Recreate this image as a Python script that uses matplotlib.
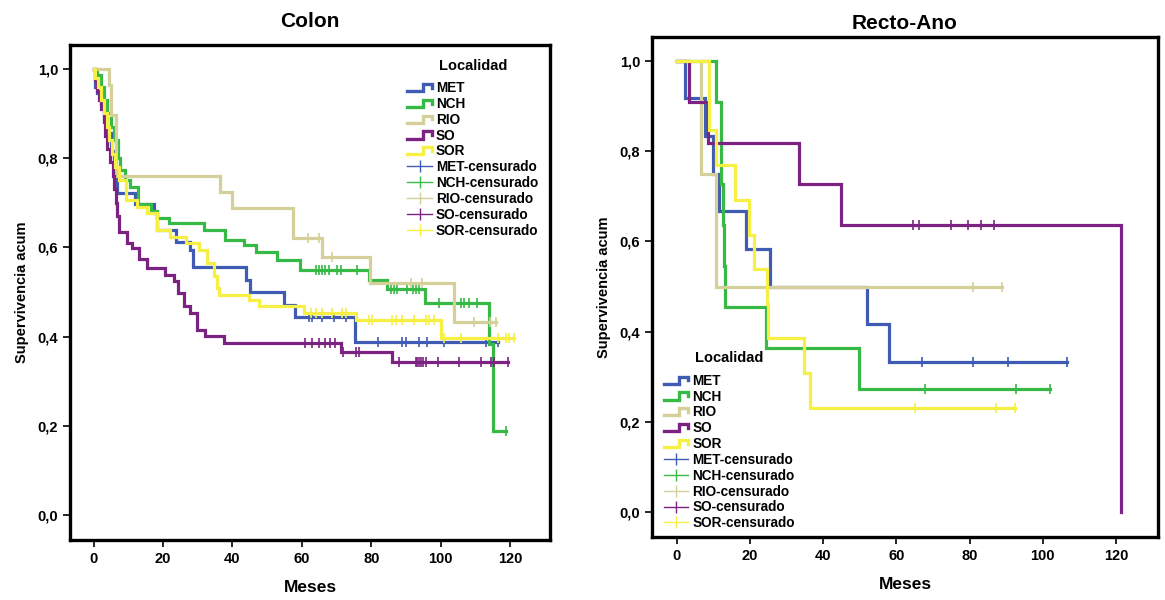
import numpy as np
import matplotlib
matplotlib.use("Agg")
from matplotlib import pyplot as plt
from matplotlib.lines import Line2D
from matplotlib.legend_handler import HandlerBase

plt.rcParams['font.family'] = ['Liberation Sans', 'DejaVu Sans']
plt.rcParams['font.weight'] = 'bold'
plt.rcParams['axes.labelweight'] = 'bold'
plt.rcParams['axes.titleweight'] = 'bold'

groups = ['MET', 'NCH', 'RIO', 'SO', 'SOR']
colors = {'MET': '#3F5BB3', 'NCH': '#36BA45', 'RIO': '#D5CF99',
          'SO': '#7B2282', 'SOR': '#F6F044'}

x_ticks = [0, 20, 40, 60, 80, 100, 120]
y_ticks = [0.0, 0.2, 0.4, 0.6, 0.8, 1.0]
y_tick_labels = ['0,0', '0,2', '0,4', '0,6', '0,8', '1,0']

# --- Colon: step times (meses) / survival, censored times ---
colon_t = {
    'MET': [0, 0.3, 1, 2, 3, 4, 5, 6, 6.7, 12, 17.3, 18.3, 23.6, 27.9, 28.5,
            43.8, 45.2, 54.8, 58, 75.2, 116.4],
    'NCH': [0, 1, 2, 3, 4, 5, 6, 7, 7.5, 9.1, 10.6, 12.7, 16.4, 18.3, 21.6,
            31.7, 38, 43.3, 46.7, 52.9, 59.6, 79.3, 84.6, 95.4, 114, 115, 118.8],
    'RIO': [0, 4.3, 5.1, 6.5, 36.5, 40, 57.4, 65.9, 79.5, 103.9, 116],
    'SO': [0, 0.5, 1, 1.5, 2, 2.9, 3.4, 4, 4.6, 5.5, 6, 6.4, 6.8, 7.2, 9.6,
           11.1, 13, 15.4, 20.7, 23.1, 24.4, 26, 27.9, 29.8, 32.2, 37.5,
           71.2, 86.1, 119.3],
    'SOR': [0, 0.5, 1.2, 2, 3, 3.8, 4.5, 5.2, 6.2, 7.2, 9.2, 12.5, 15.4, 18.3,
            22.1, 26.5, 30.3, 32.7, 34.6, 35.5, 36.1, 44.7, 47.6, 60.6, 75.5,
            100, 121.2],
}
colon_s = {
    'MET': [1, 0.96, 0.945, 0.92, 0.89, 0.855, 0.815, 0.775, 0.721, 0.697,
            0.676, 0.639, 0.613, 0.594, 0.557, 0.527, 0.501, 0.471, 0.445,
            0.388, 0.388],
    'NCH': [1, 0.985, 0.96, 0.93, 0.9, 0.87, 0.84, 0.8, 0.773, 0.75, 0.736,
            0.697, 0.682, 0.665, 0.654, 0.639, 0.617, 0.606, 0.59, 0.571,
            0.55, 0.527, 0.507, 0.475, 0.384, 0.188, 0.188],
    'RIO': [1, 0.963, 0.896, 0.76, 0.725, 0.688, 0.62, 0.578, 0.52, 0.432,
            0.432],
    'SO': [1, 0.975, 0.95, 0.93, 0.91, 0.88, 0.85, 0.82, 0.79, 0.76, 0.73,
           0.70, 0.67, 0.635, 0.609, 0.598, 0.575, 0.553, 0.539, 0.524, 0.498,
           0.468, 0.453, 0.416, 0.401, 0.386, 0.365, 0.343, 0.343],
    'SOR': [1, 0.98, 0.96, 0.93, 0.9, 0.87, 0.84, 0.81, 0.78, 0.75, 0.706,
            0.691, 0.676, 0.639, 0.624, 0.609, 0.594, 0.565, 0.535, 0.51,
            0.494, 0.483, 0.468, 0.453, 0.438, 0.397, 0.397],
}
colon_cens = {
    'MET': [62, 62.8, 65.9, 69.2, 72.6, 81.8, 89, 90, 93.8, 96.2, 101, 113.2,
            116.4],
    'NCH': [64, 65, 65.9, 66.8, 67.8, 70.2, 71.2, 76, 85.6, 86.6, 87.5, 90.4,
            91.9, 92.8, 93.8, 99.5, 105.8, 106.7, 108.2, 110.6, 118.8],
    'RIO': [61.7, 65, 68.8, 91.4, 94.5, 109.6, 114.3, 116],
    'SO': [61, 63, 65, 66.8, 68, 69.6, 72, 75.5, 76.5, 88, 92.8, 93.3, 93.8,
           94.3, 94.8, 95.7, 99.1, 105.3, 111.6, 114.5, 115.4, 119.3],
    'SOR': [62.5, 64, 65.9, 68.8, 71.7, 72.6, 79.4, 80.3, 86.1, 87.1, 89,
            92.3, 95.7, 96.6, 98.1, 101, 105.8, 116.4, 118.8, 119.7, 121.2],
}

# --- Recto-Ano ---
recto_t = {
    'MET': [0, 2.2, 7.6, 9.9, 11.4, 18.8, 25.5, 52, 57.9, 106.6],
    'NCH': [0, 10.8, 12, 12.1, 12.5, 12.9, 13.2, 24.4, 49.9, 102],
    'RIO': [0, 6.5, 10.8, 88.8],
    'SO': [0, 3.2, 8.5, 33.4, 44.9, 121.4],
    'SOR': [0, 8.8, 10.6, 15.9, 19.7, 21.1, 24.6, 24.9, 34.7, 36.4, 92.5],
}
recto_s = {
    'MET': [1, 0.917, 0.833, 0.75, 0.667, 0.583, 0.5, 0.417, 0.333, 0.333],
    'NCH': [1, 0.909, 0.818, 0.727, 0.636, 0.545, 0.455, 0.364, 0.273, 0.273],
    'RIO': [1, 0.75, 0.5, 0.5],
    'SO': [1, 0.909, 0.818, 0.727, 0.636, 0.0],
    'SOR': [1, 0.846, 0.769, 0.692, 0.615, 0.538, 0.462, 0.385, 0.308, 0.231,
            0.231],
}
recto_cens = {
    'MET': [67, 80.8, 90.5, 106.6],
    'NCH': [67.7, 92.7, 102],
    'RIO': [80.9, 88.8],
    'SO': [64.6, 66.3, 75, 79.6, 83.2, 86.6],
    'SOR': [65, 87.2, 92.5],
}


class StepHandler(HandlerBase):
    def create_artists(self, legend, orig_handle, xdescent, ydescent,
                       width, height, fontsize, trans):
        x0 = -xdescent
        y0 = -ydescent
        xs = [x0, x0 + 0.62 * width, x0 + 0.62 * width, x0 + width, x0 + width]
        ys = [y0 + 0.1 * height, y0 + 0.1 * height, y0 + 0.85 * height,
              y0 + 0.85 * height, y0 + 0.45 * height]
        ln = Line2D(xs, ys, color=orig_handle.get_color(), lw=2.4,
                    solid_joinstyle='miter')
        ln.set_transform(trans)
        return [ln]


def draw_panel(ax, times, surv, cens, title, title_pad, legend_anchor):
    for g in groups:
        t = np.array(times[g])
        s = np.array(surv[g])
        ax.step(t, s, where='post', color=colors[g], lw=2.3,
                solid_joinstyle='miter')
        c = np.array(cens[g])
        idx = np.searchsorted(t, c, side='right') - 1
        ax.plot(c, s[idx], ls='none', marker='|', ms=7, mew=1.2,
                color=colors[g])
    ax.set_xlim(-6.8, 131.5)
    ax.set_ylim(-0.055, 1.053)
    ax.set_xticks(x_ticks)
    ax.set_yticks(y_ticks)
    ax.set_yticklabels(y_tick_labels)
    ax.tick_params(direction='out', length=5, width=1.2, labelsize=10.5,
                   top=False, right=False)
    for lab in ax.get_xticklabels() + ax.get_yticklabels():
        lab.set_fontweight('bold')
    for sp in ax.spines.values():
        sp.set_linewidth(2.4)
    ax.set_xlabel('Meses', fontsize=12.5, fontweight='bold', labelpad=10)
    ax.set_ylabel('Supervivencia acum', fontsize=10.5, fontweight='bold',
                  labelpad=6)
    ax.set_title(title, fontsize=15, fontweight='bold', pad=title_pad)

    handles = [Line2D([], [], color=colors[g]) for g in groups]
    handles += [Line2D([], [], color=colors[g], lw=1.0, marker='|', ms=9,
                       mew=1.0) for g in groups]
    labels = groups + [g + '-censurado' for g in groups]
    hmap = {h: StepHandler() for h in handles[:5]}
    leg = ax.legend(handles, labels, loc='upper left',
                    bbox_to_anchor=legend_anchor, frameon=False,
                    title='Localidad', handler_map=hmap, numpoints=1,
                    prop={'weight': 'bold', 'size': 9.8},
                    labelspacing=0.135, handlelength=1.8, handletextpad=0.3,
                    borderpad=0.1, borderaxespad=0)
    leg.get_title().set_fontweight('bold')
    leg.get_title().set_fontsize(10.5)
    leg._legend_box.align = 'center'
    leg._legend_box.sep = 6


fig = plt.figure(figsize=(11.65, 6.0), dpi=100)
ax1 = fig.add_axes([0.0601, 0.10, 0.412, 0.825])
ax2 = fig.add_axes([0.5597, 0.105, 0.4343, 0.8333])

draw_panel(ax1, colon_t, colon_s, colon_cens, 'Colon', 13, (0.70, 0.975))
draw_panel(ax2, recto_t, recto_s, recto_cens, 'Recto-Ano', 6, (0.02, 0.374))

fig.savefig('out.png', dpi=100)
